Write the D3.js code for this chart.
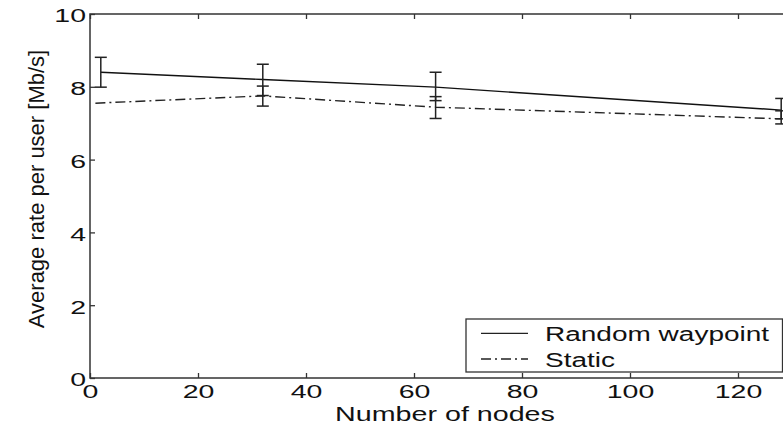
<!DOCTYPE html>
<html><head><meta charset="utf-8">
<script src="https://cdn.jsdelivr.net/npm/d3@7"></script>
<style>
html,body{margin:0;padding:0;background:#fff;}
svg{display:block;}
text{font-family:"Liberation Sans",Arial,Helvetica,sans-serif;fill:#111;}
</style></head><body>
<svg id="chart" width="783" height="425"></svg>
<script>
const xTicks = [0, 20, 40, 60, 80, 100, 120];
const yTicks = [0, 2, 4, 6, 8, 10];
const seriesNames = ["Random waypoint", "Static"];
const rwNodes = [2, 32, 64, 128];
const rwRate = [8.40, 8.20, 7.99, 7.36];
const rwLow = [7.99, 7.76, 7.62, 7.12];
const rwHigh = [8.81, 8.62, 8.40, 7.68];
const stNodes = [1, 32, 64, 128];
const stRate = [7.55, 7.75, 7.44, 7.12];
const stLow = [null, 7.47, 7.13, 6.98];
const stHigh = [null, 8.02, 7.73, 7.34];
const xLabel = "Number of nodes";
const yLabel = "Average rate per user [Mb/s]";

const svg = d3.select("#chart");
const L = 90, R = 792, T = 14, B = 378;
const x = d3.scaleLinear().domain([0, 130]).range([L, R]);
const y = d3.scaleLinear().domain([0, 10]).range([B, T]);
const axisColor = "#333";

// frame
svg.append("rect").attr("x", L).attr("y", T).attr("width", R - L).attr("height", B - T)
  .attr("fill", "none").attr("stroke", axisColor).attr("stroke-width", 1.5);

function styleAxis(g) {
  g.select(".domain").remove();
  g.selectAll(".tick line").attr("stroke", axisColor).attr("stroke-width", 1.3);
}
const gx = svg.append("g").attr("transform", `translate(0,${B})`)
  .call(d3.axisBottom(x).tickValues(xTicks).tickSizeInner(-5).tickSizeOuter(0).tickFormat(d3.format("d")));
styleAxis(gx);
gx.selectAll(".tick text").attr("y", 0).attr("dy", 0)
  .attr("transform", "translate(0,20) scale(1.5,1)")
  .style("font-size", "19px").attr("fill", "#111");

const gxTop = svg.append("g").attr("transform", `translate(0,${T})`)
  .call(d3.axisTop(x).tickValues(xTicks).tickSizeInner(-5).tickSizeOuter(0).tickFormat(""));
styleAxis(gxTop);

const gy = svg.append("g").attr("transform", `translate(${L},0)`)
  .call(d3.axisLeft(y).tickValues(yTicks).tickSizeInner(-5).tickSizeOuter(0).tickFormat(d3.format("d")));
styleAxis(gy);
gy.selectAll(".tick text").attr("x", 0).attr("dy", "0.36em")
  .attr("text-anchor", "end")
  .attr("transform", "translate(-4,1) scale(1.5,1)")
  .style("font-size", "19px").attr("fill", "#111");

// series
const line = d3.line().x(d => x(d.n)).y(d => y(d.v));
const rw = rwNodes.map((n, i) => ({ n, v: rwRate[i], lo: rwLow[i], hi: rwHigh[i] }));
const st = stNodes.map((n, i) => ({ n, v: stRate[i], lo: stLow[i], hi: stHigh[i] }));

svg.append("path").datum(rw).attr("d", line).attr("fill", "none")
  .attr("stroke", "#111").attr("stroke-width", 1.4);
svg.append("path").datum(st).attr("d", line).attr("fill", "none")
  .attr("stroke", "#222").attr("stroke-width", 1.4).attr("stroke-dasharray", "10,4,2,4");

function errorBars(data) {
  const g = svg.append("g").attr("stroke", "#222").attr("stroke-width", 1.5);
  data.filter(d => d.lo != null).forEach(d => {
    const cx = x(d.n), w = 6;
    g.append("line").attr("x1", cx).attr("x2", cx).attr("y1", y(d.lo)).attr("y2", y(d.hi));
    g.append("line").attr("x1", cx - w).attr("x2", cx + w).attr("y1", y(d.lo)).attr("y2", y(d.lo));
    g.append("line").attr("x1", cx - w).attr("x2", cx + w).attr("y1", y(d.hi)).attr("y2", y(d.hi));
  });
}
errorBars(rw);
errorBars(st);

// axis labels
svg.append("text").attr("text-anchor", "middle")
  .attr("transform", "translate(445,420.5) scale(1.47,1)")
  .style("font-size", "19.5px").text(xLabel);
svg.append("text").attr("text-anchor", "middle")
  .attr("transform", "translate(44,189) rotate(-90)")
  .style("font-size", "22px").text(yLabel);

// legend
const lg = svg.append("g");
lg.append("rect").attr("x", 466).attr("y", 319).attr("width", 316.5).attr("height", 53)
  .attr("fill", "#fff").attr("stroke", axisColor).attr("stroke-width", 1.3);
const dashes = [null, "10,4,2,4"];
seriesNames.forEach((name, i) => {
  const yy = 333.3 + i * 25.7;
  lg.append("line").attr("x1", 481).attr("x2", 528).attr("y1", yy).attr("y2", yy)
    .attr("stroke", "#222").attr("stroke-width", 1.3)
    .attr("stroke-dasharray", dashes[i]);
  lg.append("text").attr("transform", `translate(545,${yy + 7.5}) scale(1.4,1)`)
    .style("font-size", "20px").text(name);
});
</script>
</body></html>
